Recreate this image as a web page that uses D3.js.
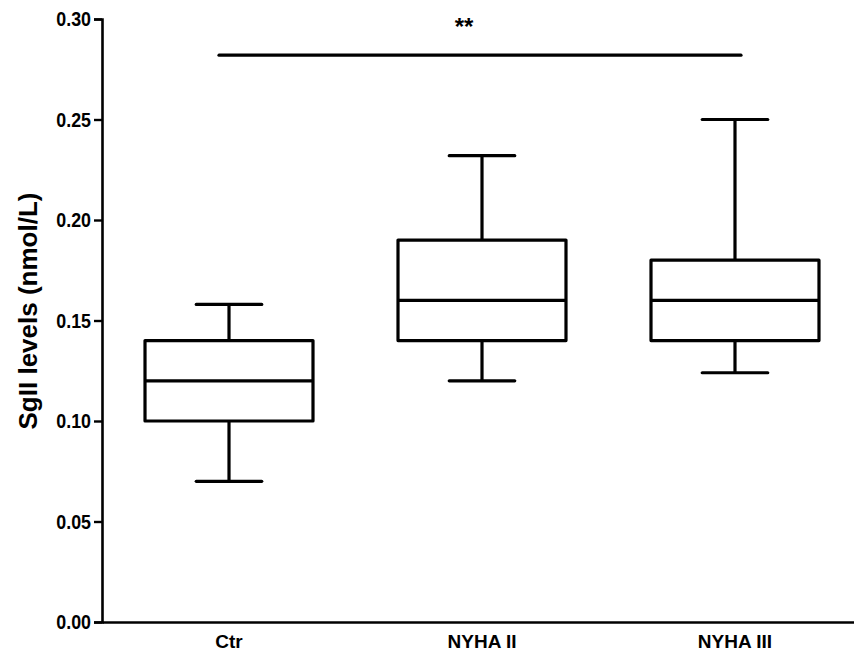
<!DOCTYPE html>
<html>
<head>
<meta charset="utf-8">
<script src="https://cdn.jsdelivr.net/npm/d3@7"></script>
<style>
  body { margin: 0; background: #fff; }
  text { font-family: "Liberation Sans", Arial, sans-serif; font-weight: bold; fill: #000; }
</style>
</head>
<body>
<svg id="chart" width="854" height="657"></svg>
<script>
// groups and box stats
const categories = ['Ctr', 'NYHA II', 'NYHA III'];
const whiskerLow = [0.070, 0.120, 0.124];
const q1 = [0.100, 0.140, 0.140];
const median = [0.120, 0.160, 0.160];
const q3 = [0.140, 0.190, 0.180];
const whiskerHigh = [0.158, 0.232, 0.250];
const yTicks = [0.00, 0.05, 0.10, 0.15, 0.20, 0.25, 0.30];
const sigLevel = 0.282;
const sigLabel = '**';

const svg = d3.select('#chart');

const x = d3.scaleBand()
    .domain(categories)
    .range([102, 862])
    .paddingInner(0.336)
    .paddingOuter(0.17);

const y = d3.scaleLinear()
    .domain([0, 0.30])
    .range([622, 19]);

const boxes = categories.map((c, i) => ({
    cat: c, lo: whiskerLow[i], q1: q1[i], med: median[i], q3: q3[i], hi: whiskerHigh[i]
}));

const bw = x.bandwidth();
const capW = bw * 0.39;

const g = svg.append('g')
    .attr('fill', 'none')
    .attr('stroke', '#000')
    .attr('stroke-width', 3.2);

const box = g.selectAll('g.box')
    .data(boxes)
    .enter()
    .append('g')
    .attr('class', 'box');

// whiskers
box.append('line')
    .attr('x1', d => x(d.cat) + bw / 2)
    .attr('x2', d => x(d.cat) + bw / 2)
    .attr('y1', d => y(d.hi))
    .attr('y2', d => y(d.q3));
box.append('line')
    .attr('x1', d => x(d.cat) + bw / 2)
    .attr('x2', d => x(d.cat) + bw / 2)
    .attr('y1', d => y(d.q1))
    .attr('y2', d => y(d.lo));

// caps
box.append('line')
    .attr('x1', d => x(d.cat) + bw / 2 - capW / 2)
    .attr('x2', d => x(d.cat) + bw / 2 + capW / 2)
    .attr('y1', d => y(d.hi))
    .attr('y2', d => y(d.hi))
    .attr('stroke-linecap', 'round');
box.append('line')
    .attr('x1', d => x(d.cat) + bw / 2 - capW / 2)
    .attr('x2', d => x(d.cat) + bw / 2 + capW / 2)
    .attr('y1', d => y(d.lo))
    .attr('y2', d => y(d.lo))
    .attr('stroke-linecap', 'round');

// box body
box.append('rect')
    .attr('x', d => x(d.cat))
    .attr('y', d => y(d.q3))
    .attr('width', bw)
    .attr('height', d => y(d.q1) - y(d.q3))
    .attr('stroke-linejoin', 'round');

// median
box.append('line')
    .attr('x1', d => x(d.cat))
    .attr('x2', d => x(d.cat) + bw)
    .attr('y1', d => y(d.med))
    .attr('y2', d => y(d.med));

// y axis
const yAxis = svg.append('g')
    .attr('transform', 'translate(102,0)')
    .call(d3.axisLeft(y).tickValues(yTicks).tickFormat(d3.format('.2f')).tickSize(8).tickPadding(3));
yAxis.select('.domain').attr('stroke-width', 2.6);
yAxis.selectAll('.tick line').attr('stroke-width', 2.4);
yAxis.selectAll('.tick text')
    .attr('font-size', 21)
    .attr('font-family', '"Liberation Sans", Arial, sans-serif')
    .attr('font-weight', 'bold')
    .attr('transform', 'scale(0.85,1)')
    .attr('x', -11 / 0.85);

// x axis
const xAxis = svg.append('g')
    .attr('transform', 'translate(0,622)')
    .call(d3.axisBottom(x).tickSize(0).tickPadding(13).tickSizeOuter(0));
xAxis.select('.domain').attr('stroke-width', 2.6);
xAxis.selectAll('.tick text')
    .attr('font-size', 19)
    .attr('font-family', '"Liberation Sans", Arial, sans-serif')
    .attr('font-weight', 'bold');

// axis title
svg.append('text')
    .attr('transform', 'translate(37,311) rotate(-90)')
    .attr('text-anchor', 'middle')
    .attr('font-size', 26)
    .text('SgII levels (nmol/L)');

// significance bar
const xc = c => x(c) + bw / 2;
svg.append('line')
    .attr('x1', xc(categories[0]) - 10)
    .attr('x2', xc(categories[2]) + 6)
    .attr('y1', y(sigLevel))
    .attr('y2', y(sigLevel))
    .attr('stroke', '#000')
    .attr('stroke-width', 3.2)
    .attr('stroke-linecap', 'round');
svg.append('text')
    .attr('x', (xc(categories[0]) + xc(categories[2])) / 2 - 18)
    .attr('y', 35)
    .attr('text-anchor', 'middle')
    .attr('font-size', 24)
    .text(sigLabel);
</script>
</body>
</html>
